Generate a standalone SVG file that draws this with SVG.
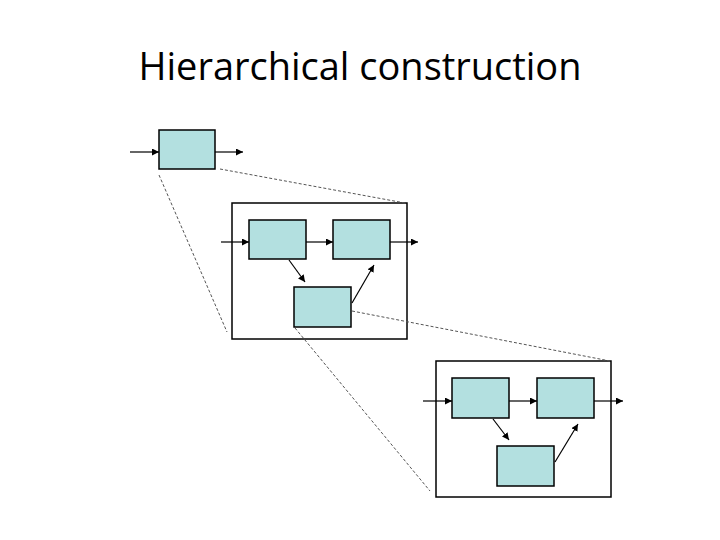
<svg xmlns="http://www.w3.org/2000/svg" width="720" height="540" viewBox="0 0 720 540">
<style>
.box{fill:#b3e0e0;stroke:#000;stroke-width:1.5}
.frame{fill:#fff;stroke:#000;stroke-width:1.5}
.arr{stroke:#000;stroke-width:1.2;fill:none;marker-end:url(#ah)}
.dash{stroke:#555;stroke-width:1;stroke-dasharray:3,2;fill:none}
.title{font-family:"Open Sans","Liberation Sans",sans-serif;font-size:38px;fill:#000}
</style>
<defs>
<marker id="ah" viewBox="0 0 10 10" refX="10" refY="5" markerWidth="7" markerHeight="7" markerUnits="userSpaceOnUse" orient="auto">
<path d="M0,0 L10,5 L0,10 z" fill="#000"/>
</marker>
</defs>
<rect width="720" height="540" fill="#fff"/>
<text class="title" x="360" y="80" text-anchor="middle" textLength="443" lengthAdjust="spacingAndGlyphs">Hierarchical construction</text>

<g id="frame-mid"><rect class="frame" x="232" y="203" width="175" height="136"/></g>
<g id="frame-bottom"><rect class="frame" x="436" y="361" width="175" height="136"/></g>

<g id="connectors">
<line class="arr" x1="130" y1="152" x2="159" y2="152"/>
<line class="arr" x1="215" y1="152" x2="243" y2="152"/>
<line class="dash" x1="220" y1="169" x2="405" y2="203"/>
<line class="dash" x1="159" y1="175" x2="227" y2="332"/>

<line class="arr" x1="221" y1="242" x2="249" y2="242"/>
<line class="arr" x1="306" y1="242" x2="333" y2="242"/>
<line class="arr" x1="390" y1="242" x2="418" y2="242"/>
<line class="arr" x1="289" y1="260" x2="305" y2="282"/>
<line class="arr" x1="352" y1="303" x2="374" y2="265"/>
<line class="dash" x1="352" y1="311" x2="610" y2="361"/>
<line class="dash" x1="295" y1="328" x2="430" y2="491"/>

<line class="arr" x1="423" y1="401" x2="452" y2="401"/>
<line class="arr" x1="509" y1="401" x2="537" y2="401"/>
<line class="arr" x1="594" y1="401" x2="623" y2="401"/>
<line class="arr" x1="493" y1="419" x2="509" y2="440"/>
<line class="arr" x1="555" y1="462" x2="578" y2="424"/>
</g>

<g id="top-box"><rect class="box" x="159" y="130" width="56" height="39"/></g>
<g id="mid-a"><rect class="box" x="249" y="220" width="57" height="39"/></g>
<g id="mid-b"><rect class="box" x="333" y="220" width="57" height="39"/></g>
<g id="mid-c"><rect class="box" x="294" y="287" width="57" height="40"/></g>
<g id="bot-d"><rect class="box" x="452" y="378" width="57" height="40"/></g>
<g id="bot-e"><rect class="box" x="537" y="378" width="57" height="40"/></g>
<g id="bot-f"><rect class="box" x="497" y="446" width="57" height="40"/></g>
</svg>
